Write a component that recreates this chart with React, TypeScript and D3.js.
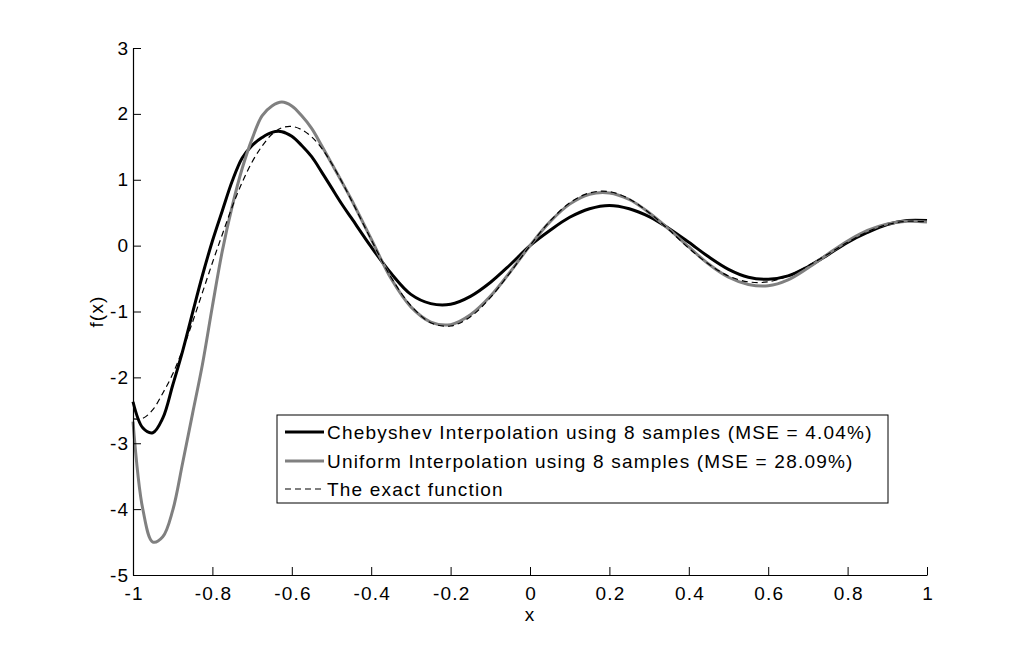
import { useRef, useEffect } from "react";
import * as d3 from "d3";

// Sample positions shared by every series
const X = [
  -1, -0.975, -0.95, -0.925, -0.9, -0.875, -0.85, -0.825, -0.8, -0.775, -0.75, -0.725,
  -0.7, -0.675, -0.65, -0.625, -0.6, -0.575, -0.55, -0.525, -0.5, -0.475, -0.45,
  -0.4, -0.35, -0.3, -0.25, -0.2, -0.15, -0.1, -0.05, 0, 0.05, 0.1, 0.15, 0.2, 0.25,
  0.3, 0.35, 0.4, 0.45, 0.5, 0.55, 0.6, 0.65, 0.7, 0.75, 0.8, 0.85, 0.9, 0.95, 1,
];

const CHEBYSHEV = [
  -2.37, -2.77, -2.84, -2.62, -2.12, -1.6, -1.02, -0.45, 0.07, 0.53, 0.98, 1.33,
  1.52, 1.64, 1.72, 1.73, 1.66, 1.52, 1.35, 1.12, 0.88, 0.64, 0.42,
  -0.02, -0.42, -0.74, -0.88, -0.89, -0.77, -0.56, -0.29, 0, 0.23, 0.43, 0.56, 0.61, 0.56,
  0.44, 0.26, 0.05, -0.17, -0.36, -0.48, -0.51, -0.46, -0.32, -0.14, 0.05, 0.2, 0.32, 0.38, 0.38,
];

const UNIFORM = [
  -2.67, -4.01, -4.5, -4.42, -4.02, -3.3, -2.55, -1.8, -0.92, -0.08, 0.6, 1.17,
  1.62, 1.97, 2.12, 2.18, 2.12, 1.97, 1.78, 1.52, 1.25, 0.98, 0.7,
  0.1, -0.5, -0.93, -1.16, -1.2, -1.05, -0.77, -0.4, 0, 0.36, 0.63, 0.78, 0.8, 0.7,
  0.5, 0.25, -0.02, -0.28, -0.48, -0.59, -0.61, -0.52, -0.34, -0.13, 0.07, 0.23, 0.33, 0.37, 0.36,
];

const EXACT = [
  -2.63, -2.62, -2.49, -2.24, -1.95, -1.58, -1.16, -0.71, -0.26, 0.17, 0.59, 0.96,
  1.27, 1.51, 1.69, 1.79, 1.81, 1.76, 1.65, 1.48, 1.25, 0.98, 0.69,
  0.09, -0.48, -0.91, -1.17, -1.22, -1.08, -0.79, -0.41, 0, 0.37, 0.65, 0.8, 0.82, 0.71,
  0.5, 0.24, -0.04, -0.28, -0.46, -0.55, -0.55, -0.46, -0.31, -0.13, 0.05, 0.21, 0.32, 0.37, 0.36,
];

const X_TICKS = [-1, -0.8, -0.6, -0.4, -0.2, 0, 0.2, 0.4, 0.6, 0.8, 1];
const Y_TICKS = [-5, -4, -3, -2, -1, 0, 1, 2, 3];

const SERIES = [
  { name: "Chebyshev Interpolation using 8 samples (MSE = 4.04%)", values: CHEBYSHEV, color: "#000", width: 3, dash: "" },
  { name: "Uniform Interpolation using 8 samples (MSE = 28.09%)", values: UNIFORM, color: "#808080", width: 3, dash: "" },
  { name: "The exact function", values: EXACT, color: "#000", width: 1.2, dash: "6,4" },
];

const FONT = "'Liberation Sans', Arial, sans-serif";
const FONT_SIZE = 19;
const SPACING = "1.2px";

export default function App() {
  const svgRef = useRef<SVGSVGElement>(null);

  useEffect(() => {
    if (!svgRef.current) return;
    const width = 1024;
    const height = 646;
    const margin = { top: 48, right: 97, bottom: 71, left: 133 };
    const innerW = width - margin.left - margin.right;
    const innerH = height - margin.top - margin.bottom;

    const svg = d3.select(svgRef.current);
    svg.selectAll("*").remove();
    svg.attr("width", width).attr("height", height);

    svg.append("rect").attr("width", width).attr("height", height).attr("fill", "#fff");

    const g = svg.append("g").attr("transform", `translate(${margin.left},${margin.top})`);

    const xScale = d3.scaleLinear().domain([-1, 1]).range([0, innerW]);
    const yScale = d3.scaleLinear().domain([-5, 3]).range([innerH, 0]);

    // ── Curves ────────────────────────────────────────────────────
    const line = d3
      .line<number>()
      .x((_, i) => xScale(X[i]))
      .y((d) => yScale(d))
      .curve(d3.curveCatmullRom.alpha(0.5));

    SERIES.forEach((s) => {
      g.append("path")
        .attr("d", line(s.values))
        .attr("fill", "none")
        .attr("stroke", s.color)
        .attr("stroke-width", s.width)
        .attr("stroke-dasharray", s.dash || null)
        .attr("stroke-linejoin", "round");
    });

    // ── Axes (ticks pointing inward) ──────────────────────────────
    const xAxis = d3.axisBottom(xScale).tickValues(X_TICKS).tickSizeInner(-8).tickSizeOuter(0)
      .tickPadding(12).tickFormat((d) => String(d));
    const gx = g.append("g").attr("transform", `translate(0,${innerH})`).call(xAxis);
    gx.selectAll("text")
      .attr("font-size", FONT_SIZE).attr("font-family", FONT).attr("fill", "#000")
      .style("letter-spacing", SPACING).attr("dx", "0.6");

    const yAxis = d3.axisLeft(yScale).tickValues(Y_TICKS).tickSizeInner(-8).tickSizeOuter(0)
      .tickPadding(5).tickFormat((d) => String(d));
    const gy = g.append("g").call(yAxis);
    gy.selectAll("text")
      .attr("font-size", FONT_SIZE).attr("font-family", FONT).attr("fill", "#000")
      .style("letter-spacing", SPACING).attr("dx", "1.2");

    [gx, gy].forEach((ax) => {
      ax.select(".domain").attr("stroke", "#000").attr("stroke-width", 1.2);
      ax.selectAll(".tick line").attr("stroke", "#000");
    });

    // ── Axis labels ───────────────────────────────────────────────
    svg.append("text")
      .attr("x", margin.left + innerW / 2)
      .attr("y", 621)
      .attr("text-anchor", "middle")
      .attr("font-size", FONT_SIZE)
      .attr("font-family", FONT)
      .style("letter-spacing", SPACING)
      .text("x");

    svg.append("text")
      .attr("transform", `translate(103,${margin.top + innerH / 2}) rotate(-90)`)
      .attr("text-anchor", "middle")
      .attr("font-size", FONT_SIZE)
      .attr("font-family", FONT)
      .style("letter-spacing", SPACING)
      .text("f(x)");

    // ── Legend ────────────────────────────────────────────────────
    const lg = svg.append("g").attr("transform", "translate(277,415)");
    lg.append("rect")
      .attr("width", 611)
      .attr("height", 88)
      .attr("fill", "#fff")
      .attr("stroke", "#000")
      .attr("stroke-width", 1);

    const rowY = [17, 46, 74];
    SERIES.forEach((s, i) => {
      lg.append("line")
        .attr("x1", 8).attr("x2", 47)
        .attr("y1", rowY[i]).attr("y2", rowY[i])
        .attr("stroke", s.color)
        .attr("stroke-width", s.width)
        .attr("stroke-dasharray", s.dash || null);
      lg.append("text")
        .attr("x", 50)
        .attr("y", rowY[i] + 7)
        .attr("font-size", FONT_SIZE)
        .attr("font-family", FONT)
        .attr("fill", "#000")
        .style("letter-spacing", SPACING)
        .text(s.name);
    });
  }, []);

  return (
    <div style={{ position: "absolute", left: 0, top: 0 }}>
      <svg ref={svgRef} width={1024} height={646} style={{ display: "block" }} />
    </div>
  );
}
